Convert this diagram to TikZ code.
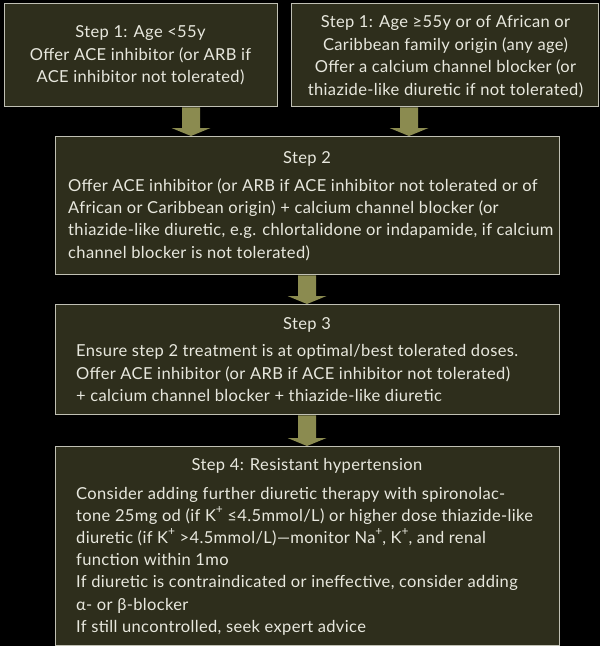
\documentclass[tikz,border=0pt]{standalone}
\usepackage{fontspec}
\setmainfont[LetterSpace=2.2]{Lato}
\usetikzlibrary{calc}
\definecolor{boxfill}{RGB}{46,46,28}
\definecolor{boxline}{RGB}{192,192,180}
\definecolor{arrowfill}{RGB}{139,139,80}
\definecolor{txt}{RGB}{232,232,222}
\pgfdeclarelayer{bg}
\pgfsetlayers{bg,main}
\newcommand\supplus{\raisebox{7.5pt}{\fontsize{12}{12}\selectfont+}}
\newcommand\blockarr[2]{%
  \fill[arrowfill] let \p1=(#1), \p2=(#2) in
    (\x1-9pt,\y1) -- (\x1+9pt,\y1) -- (\x1+9pt,\y2+8pt) -- (\x1+19.5pt,\y2+8pt)
    -- (\x1,\y2) -- (\x1-19.5pt,\y2+8pt) -- (\x1-9pt,\y2+8pt) -- cycle;}
\begin{document}
\begin{tikzpicture}[x=1pt,y=-1pt,
  stepbox/.style={draw=boxline, line width=1.3pt, fill=boxfill, inner sep=0pt,
    anchor=north west, rectangle},
  ctext/.style={text=txt, inner sep=0pt, anchor=base, font=\fontsize{16.5}{18}\selectfont},
  ltext/.style={ctext, anchor=base west}]
\useasboundingbox (0,0) rectangle (600,646);
\begin{pgfonlayer}{bg}
  \fill[black] (0,0) rectangle (600,646);
\end{pgfonlayer}
% boxes
\node[stepbox, minimum width=273pt, minimum height=103pt] (b1) at (4,3) {};
\node[stepbox, minimum width=307pt, minimum height=103pt] (b2) at (291,3) {};
\node[stepbox, minimum width=504pt, minimum height=138pt] (s2) at (55,136) {};
\node[stepbox, minimum width=504pt, minimum height=110pt] (s3) at (55,304) {};
\node[stepbox, minimum width=504pt, minimum height=199pt] (s4) at (55,446) {};
% arrow positions
\coordinate (ax1) at (191,0);
\coordinate (ax2) at (409,0);
\coordinate (ax3) at (307,0);
\begin{pgfonlayer}{bg}
  \blockarr{b1.south -| ax1}{s2.north -| ax1}
  \blockarr{b2.south -| ax2}{s2.north -| ax2}
  \blockarr{s2.south -| ax3}{s3.north -| ax3}
  \blockarr{s3.south -| ax3}{s4.north -| ax3}
\end{pgfonlayer}
% box 1 text
\foreach \t [count=\i] in {{Step 1: Age <55y},{Offer ACE inhibitor (or ARB if},{ACE inhibitor not tolerated)}}
  \node[ctext] (b1t\i) at (140.5,{14.6+22.7*\i}) {\t};
% box 2 text
\foreach \t [count=\i] in {{Step 1: Age ≥55y or of African or},{Caribbean family origin (any age)},{Offer a calcium channel blocker (or},{thiazide-like diuretic if not tolerated)}}
  \node[ctext] (b2t\i) at (445.5,{4.6+22.7*\i}) {\t};
% step 2
\node[ctext] (s2t) at (307,163) {Step 2};
\foreach \t [count=\i] in {{Offer ACE inhibitor (or ARB if ACE inhibitor not tolerated or of},{African or Caribbean origin) + calcium channel blocker (or},{thiazide-like diuretic, e.g. chlortalidone or indapamide, if calcium},{channel blocker is not tolerated)}}
  \node[ltext] (s2l\i) at (68,{168.6+22.4*\i}) {\t};
% step 3
\node[ctext] (s3t) at (307,329.5) {Step 3};
\foreach \t [count=\i] in {{Ensure step 2 treatment is at optimal/best tolerated doses.},{Offer ACE inhibitor (or ARB if ACE inhibitor not tolerated)},{+ calcium channel blocker + thiazide-like diuretic}}
  \node[ltext] (s3l\i) at (76,{334.2+22.4*\i}) {\t};
% step 4
\node[ctext] (s4t) at (307,470.7) {Step 4: Resistant hypertension};
\foreach \t [count=\i] in {{Consider adding further diuretic therapy with spironolac-},{tone 25mg od (if K\supplus{} ≤4.5mmol/L) or higher dose thiazide-like},{diuretic (if K\supplus{} >4.5mmol/L)—monitor Na\supplus, K\supplus, and renal},{function within 1mo},{If diuretic is contraindicated or ineffective, consider adding},{α- or β-blocker},{If still uncontrolled, seek expert advice}}
  \node[ltext] (s4l\i) at (76,{476.8+22.2*\i}) {\t};
\end{tikzpicture}
\end{document}
